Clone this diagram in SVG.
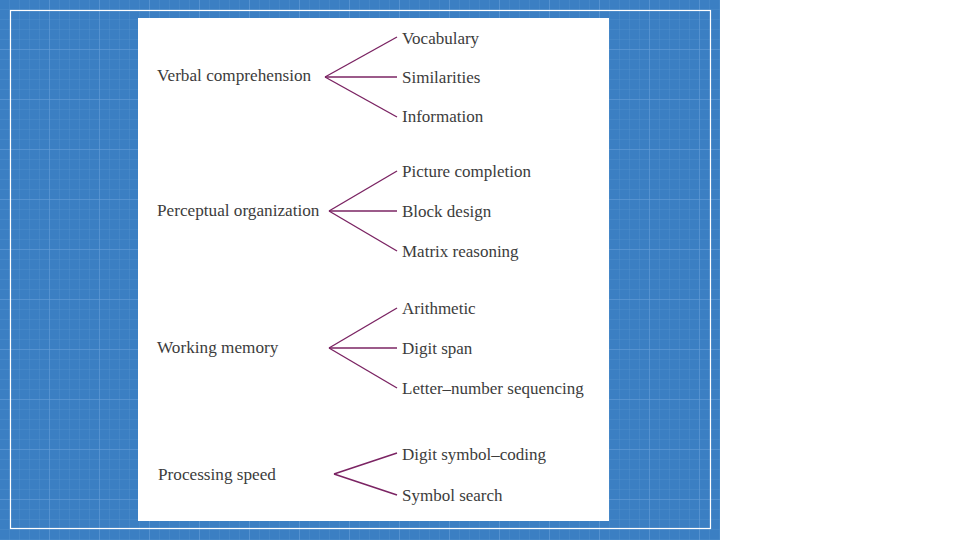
<svg xmlns="http://www.w3.org/2000/svg" width="960" height="540" viewBox="0 0 960 540">
<defs>
<pattern id="grid" width="10" height="10" patternUnits="userSpaceOnUse">
<rect width="10" height="10" fill="#3b7fc3"/>
<path d="M10 0V10M0 10H10" stroke="#5592cf" stroke-width="0.7" fill="none"/>
</pattern>
<pattern id="grid50" width="50" height="50" patternUnits="userSpaceOnUse">
<path d="M50 0V50M0 50H50" stroke="#659fd8" stroke-width="1" fill="none"/>
</pattern>
</defs>
<style>
text{font-family:"Liberation Serif","Times New Roman",serif;font-size:17px;fill:#3c3c3c}
.p{font-size:17.2px}
.c line{stroke:#7b2463;stroke-width:1.4}
</style>
<rect width="960" height="540" fill="#ffffff"/>
<rect x="0" y="0" width="720" height="540" fill="url(#grid)"/>
<rect x="0" y="0" width="720" height="540" fill="url(#grid50)"/>
<rect x="10.5" y="10.5" width="700" height="518" fill="none" stroke="#ffffff" stroke-width="1.2"/>
<rect x="138" y="18" width="471" height="503" fill="#ffffff"/>
<g class="c" id="connectors">
<line x1="325" y1="77" x2="397" y2="37"/>
<line x1="325" y1="77" x2="397" y2="77"/>
<line x1="325" y1="77" x2="397" y2="117"/>
<line x1="329" y1="211" x2="397" y2="171"/>
<line x1="329" y1="211" x2="397" y2="211"/>
<line x1="329" y1="211" x2="397" y2="251"/>
<line x1="329" y1="348" x2="397" y2="308"/>
<line x1="329" y1="348" x2="397" y2="348"/>
<line x1="329" y1="348" x2="397" y2="388"/>
<line x1="334" y1="474" x2="397" y2="453"/>
<line x1="334" y1="474" x2="397" y2="495"/>
</g>
<g id="n-verbal"><text class="p" x="157" y="81">Verbal comprehension</text></g>
<g id="n-vocab"><text x="402" y="44">Vocabulary</text></g>
<g id="n-simil"><text x="402" y="83">Similarities</text></g>
<g id="n-info"><text x="402" y="122">Information</text></g>
<g id="n-percep"><text class="p" x="157" y="216">Perceptual organization</text></g>
<g id="n-picture"><text x="402" y="177">Picture completion</text></g>
<g id="n-block"><text x="402" y="217">Block design</text></g>
<g id="n-matrix"><text x="402" y="257">Matrix reasoning</text></g>
<g id="n-working"><text class="p" x="157" y="353">Working memory</text></g>
<g id="n-arith"><text x="402" y="314">Arithmetic</text></g>
<g id="n-digit"><text x="402" y="354">Digit span</text></g>
<g id="n-letter"><text x="402" y="394">Letter–number sequencing</text></g>
<g id="n-proc"><text class="p" x="158" y="480">Processing speed</text></g>
<g id="n-dsc"><text x="402" y="460">Digit symbol–coding</text></g>
<g id="n-ss"><text x="402" y="501">Symbol search</text></g>
</svg>
